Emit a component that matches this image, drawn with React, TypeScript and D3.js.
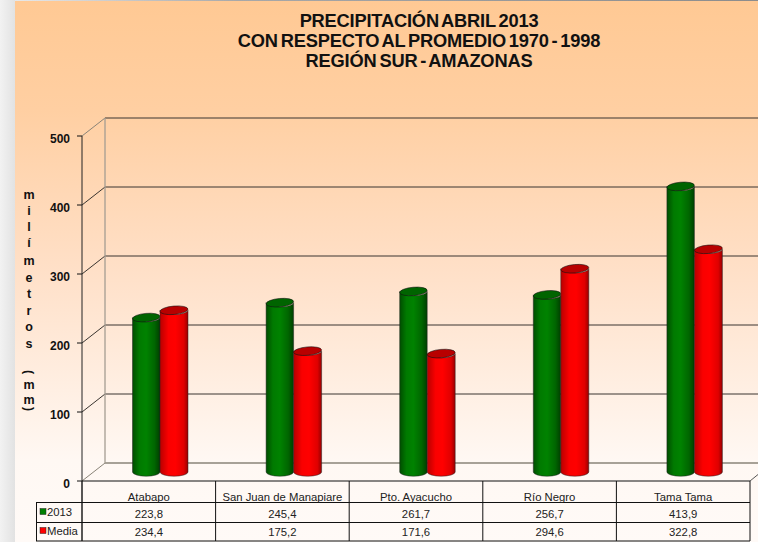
import React from "react";
import * as d3 from "d3";

const categories = ["Atabapo", "San Juan de Manapiare", "Pto. Ayacucho", "Río Negro", "Tama Tama"];
const series2013 = [223.8, 245.4, 261.7, 256.7, 413.9];
const seriesMedia = [234.4, 175.2, 171.6, 294.6, 322.8];
const labels2013 = ["223,8", "245,4", "261,7", "256,7", "413,9"];
const labelsMedia = ["234,4", "175,2", "171,6", "294,6", "322,8"];
const yTicks = [0, 100, 200, 300, 400, 500];
const titleLines = ["PRECIPITACIÓN ABRIL 2013", "CON RESPECTO AL PROMEDIO 1970 - 1998", "REGIÓN SUR - AMAZONAS"];
const yTitle = [["m",195],["i",211],["l",227],["í",243],["m",261],["e",278],["t",294],["r",311],["o",327],["s",344],["m",385],["m",400]] as [string, number][];
const yTitleParens = [["(",372],[")",409]] as [string, number][];

const W = 758, H = 542;
const x = d3.scaleBand<string>().domain(categories).range([82, 750]);
const y = d3.scaleLinear().domain([0, 500]).range([481, 136]);
const dx = 23, dy = -18;
const font = "'Liberation Sans', Arial, sans-serif";

function Cyl({ x0, w, v, fill, topFill }: { x0: number; w: number; v: number; fill: string; topFill: string }) {
  const base = y(0) - 9;
  const top = base - (y(0) - y(v));
  const rx = w / 2, ry = 4.2;
  const d = `M${x0},${top} L${x0},${base} A${rx},${ry} 0 0 0 ${x0 + w},${base} L${x0 + w},${top} A${rx},${ry} 0 0 1 ${x0},${top} Z`;
  return (
    <g>
      <path d={d} fill={fill} stroke="#222" strokeWidth={0.7} strokeOpacity={0.7} />
      <ellipse cx={x0 + rx} cy={top} rx={rx} ry={ry} fill={topFill} stroke="#111" strokeWidth={0.7} strokeOpacity={0.8} transform={`rotate(-5 ${x0 + rx} ${top})`} />
    </g>
  );
}

export default function App() {
  const bw = x.bandwidth();
  const rowYs = [481, 502.5, 522.5, 541];
  const edges = categories.map((c) => x(c)!).concat([750]);
  return (
    <svg width={W} height={H} viewBox={`0 0 ${W} ${H}`} style={{ position: "absolute", left: 0, top: 0, display: "block" }}>
      <defs>
        <linearGradient id="bg" x1="0" y1="0" x2="0" y2="1">
          <stop offset="0" stopColor="#FFC994" />
          <stop offset="0.2" stopColor="#FFCFA2" />
          <stop offset="0.5" stopColor="#FFE0C8" />
          <stop offset="0.85" stopColor="#FFF8F3" />
          <stop offset="1" stopColor="#FFFAF7" />
        </linearGradient>
        <linearGradient id="side" x1="0" y1="0" x2="1" y2="0">
          <stop offset="0" stopColor="#F2F2F2" />
          <stop offset="1" stopColor="#E2E2E2" />
        </linearGradient>
        <linearGradient id="topLine" x1="0" y1="0" x2="1" y2="0">
          <stop offset="0" stopColor="#E8E8E8" />
          <stop offset="0.3" stopColor="#A8A8A8" />
          <stop offset="1" stopColor="#8C8C8C" />
        </linearGradient>
        <linearGradient id="green" x1="0" y1="0" x2="1" y2="0">
          <stop offset="0" stopColor="#004D00" />
          <stop offset="0.25" stopColor="#007A00" />
          <stop offset="0.5" stopColor="#008200" />
          <stop offset="0.8" stopColor="#006600" />
          <stop offset="1" stopColor="#003F00" />
        </linearGradient>
        <linearGradient id="red" x1="0" y1="0" x2="1" y2="0">
          <stop offset="0" stopColor="#B80000" />
          <stop offset="0.3" stopColor="#FA0000" />
          <stop offset="0.55" stopColor="#FF0000" />
          <stop offset="0.85" stopColor="#E00000" />
          <stop offset="1" stopColor="#990000" />
        </linearGradient>
      </defs>

      <rect x={0} y={0} width={15} height={H} fill="url(#side)" />
      <rect x={15} y={1} width={W - 15} height={H - 1} fill="url(#bg)" />
      <rect x={15} y={0} width={W - 15} height={1} fill="url(#topLine)" />

      {titleLines.map((t, i) => (
        <text key={t} x={419} y={[26.5, 47, 67][i]} textAnchor="middle" fontFamily={font} fontWeight={700} fontSize={18.3} letterSpacing={-0.2} wordSpacing={-2} fill="#111">{t}</text>
      ))}

      {/* back wall */}
      {yTicks.map((t) => (
        <g key={t}>
          <line x1={82 + dx} x2={W} y1={y(t) + dy} y2={y(t) + dy} stroke={t === 0 ? "#8a8478" : "#3a3530"} strokeWidth={t === 0 ? 1.4 : 1} />
          <line x1={82} x2={82 + dx} y1={y(t)} y2={y(t) + dy} stroke={t === 500 || t === 0 ? "#8a8478" : "#3a3530"} strokeWidth={1} />
          <line x1={77} x2={82} y1={y(t)} y2={y(t)} stroke="#111" strokeWidth={1} />
          <text x={70} y={y(t) + 6.5} textAnchor="end" fontFamily={font} fontWeight={700} fontSize={12} fill="#111">{t}</text>
        </g>
      ))}
      <line x1={82 + dx} x2={82 + dx} y1={y(500) + dy} y2={y(0) + dy} stroke="#a59d92" strokeWidth={1.3} />
      <line x1={82} x2={82} y1={y(500)} y2={y(0)} stroke="#222" strokeWidth={1} />
      <line x1={750} x2={758} y1={481} y2={474.5} stroke="#555" strokeWidth={1} />

      {categories.map((c, i) => {
        const mid = x(c)! + bw / 2 + 11.2;
        return (
          <g key={c}>
            <Cyl x0={mid - 27.5} w={27.5} v={series2013[i]} fill="url(#green)" topFill="#006400" />
            <Cyl x0={mid} w={28} v={seriesMedia[i]} fill="url(#red)" topFill="#B80000" />
          </g>
        );
      })}

      {/* y title */}
      {yTitle.map(([ch, py], i) => (
        <text key={i} x={29} y={py + 4} textAnchor="middle" fontFamily={font} fontWeight={700} fontSize={12.5} fill="#111">{ch}</text>
      ))}
      {yTitleParens.map(([ch, py], i) => (
        <text key={i} x={0} y={0} transform={`translate(29 ${py}) rotate(90)`} textAnchor="middle" dy={4} fontFamily={font} fontWeight={700} fontSize={12.5} fill="#111">{ch}</text>
      ))}

      {/* data table */}
      <line x1={82} x2={750} y1={rowYs[0]} y2={rowYs[0]} stroke="#111" strokeWidth={1.2} />
      {rowYs.slice(1).map((r) => (
        <line key={r} x1={36} x2={750} y1={r} y2={r} stroke="#111" strokeWidth={1.1} />
      ))}
      <line x1={36.5} x2={36.5} y1={rowYs[1]} y2={rowYs[3]} stroke="#111" strokeWidth={1} />
      {edges.map((e, i) => (
        <line key={e} x1={e} x2={e} y1={rowYs[0]} y2={rowYs[3]} stroke="#111" strokeWidth={i === 0 ? 1.4 : 1} />
      ))}
      {categories.map((c, i) => {
        const cx = x(c)! + bw / 2;
        return (
          <g key={c} fontFamily={font} fontSize={11.3} fill="#222" textAnchor="middle">
            <text x={cx} y={501}>{c}</text>
            <text x={cx} y={517.5}>{labels2013[i]}</text>
            <text x={cx} y={536}>{labelsMedia[i]}</text>
          </g>
        );
      })}
      <rect x={40} y={508.5} width={6} height={6} fill="#008000" stroke="#222" strokeWidth={0.5} />
      <text x={47} y={516} fontFamily={font} fontSize={11.3} fill="#222">2013</text>
      <rect x={40} y={527.5} width={6} height={6} fill="#FF0000" stroke="#222" strokeWidth={0.5} />
      <text x={47} y={535} fontFamily={font} fontSize={11.3} fill="#222">Media</text>
    </svg>
  );
}
